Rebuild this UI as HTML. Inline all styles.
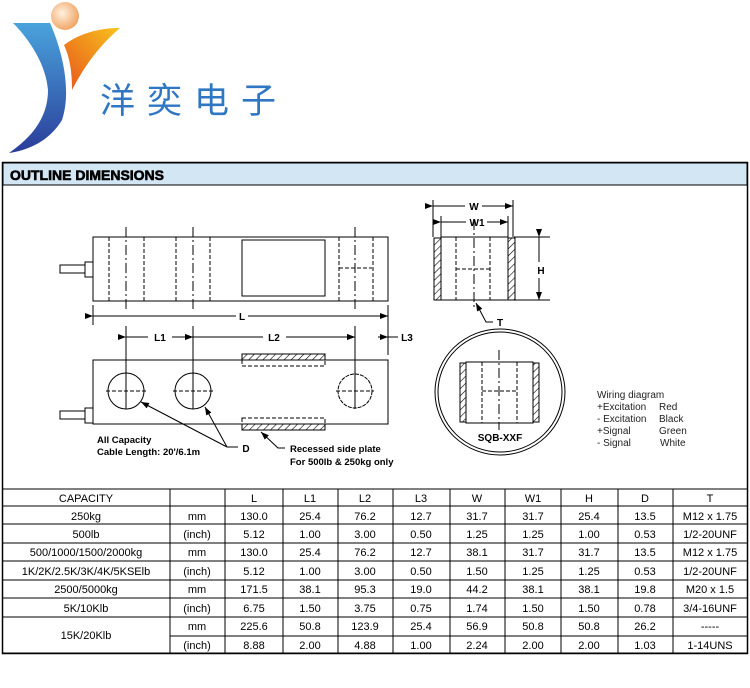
<!DOCTYPE html>
<html><head><meta charset="utf-8"><style>
body{margin:0;width:750px;height:688px;background:#fff;overflow:hidden}
svg{display:block}
text{font-family:"Liberation Sans",Arial,sans-serif}
</style></head><body>
<svg width="750" height="688" viewBox="0 0 750 688" xmlns="http://www.w3.org/2000/svg">
<defs>
<linearGradient id="gb" x1="0" y1="0" x2="0" y2="1"><stop offset="0" stop-color="#4aa3dc"/><stop offset="1" stop-color="#2a3d9a"/></linearGradient>
<linearGradient id="go" x1="0" y1="1" x2="1" y2="0"><stop offset="0" stop-color="#e8541e"/><stop offset="1" stop-color="#f7c21b"/></linearGradient>
<radialGradient id="gs" cx="0.4" cy="0.4" r="0.6"><stop offset="0" stop-color="#fff1e0"/><stop offset="1" stop-color="#f0a868"/></radialGradient>
<pattern id="hat" width="5" height="5" patternUnits="userSpaceOnUse" patternTransform="rotate(45)"><line x1="0" y1="0" x2="0" y2="5" stroke="#000" stroke-width="1.2"/></pattern>
<marker id="ar" markerWidth="8" markerHeight="6" refX="8" refY="3" orient="auto" markerUnits="userSpaceOnUse"><path d="M0,0 L8,3 L0,6z" fill="#000"/></marker>
</defs>
<!-- logo -->
<circle cx="65" cy="16" r="14" fill="url(#gs)"/>
<path d="M13,23 L50,23 C62,50 72,90 62,120 C50,140 30,150 9,153 C35,135 48,115 48,90 C46,65 30,40 13,23Z" fill="url(#gb)"/>
<path d="M64,45 C80,33 100,28 120,28 C100,45 85,65 72,90 C72,72 70,58 64,45Z" fill="url(#go)"/>
<text x="100" y="113" font-size="35" fill="#2f77c2" letter-spacing="12" style="font-family:'Noto Sans CJK SC',sans-serif">洋奕电子</text>
<!-- frame -->
<rect x="2.5" y="162.5" width="745" height="491" fill="none" stroke="#000" stroke-width="1.5"/>
<rect x="3" y="163" width="744" height="22" fill="#d3e6f4" stroke="#000" stroke-width="1"/>
<text x="10" y="180" font-size="14" font-weight="bold" stroke="#000" stroke-width="0.6">OUTLINE DIMENSIONS</text>
<g stroke="#000" stroke-width="1" fill="none">
<!-- top view -->
<rect x="93" y="237" width="295" height="64"/>
<rect x="242" y="240" width="83" height="56"/>
<g stroke-dasharray="4,2"><line x1="109" y1="237" x2="109" y2="301"/><line x1="144" y1="237" x2="144" y2="301"/><line x1="176" y1="237" x2="176" y2="301"/><line x1="210" y1="237" x2="210" y2="301"/><line x1="339" y1="237" x2="339" y2="301"/><line x1="373" y1="237" x2="373" y2="301"/><line x1="339" y1="268" x2="372" y2="268"/></g>
<g stroke-dasharray="10,3,2,3"><line x1="126" y1="227" x2="126" y2="312"/><line x1="193" y1="227" x2="193" y2="312"/><line x1="355" y1="227" x2="355" y2="312"/></g>
<rect x="85" y="262" width="8" height="15"/><rect x="60" y="265" width="25" height="8"/>
<line x1="93" y1="305" x2="93" y2="325"/><line x1="388" y1="305" x2="388" y2="355"/>
<line x1="93" y1="316" x2="236" y2="316" marker-start="url(#ar)"/><line x1="248" y1="316" x2="388" y2="316" marker-end="url(#ar)"/>
<line x1="126" y1="326" x2="126" y2="409"/><line x1="193" y1="326" x2="193" y2="409"/><line x1="355" y1="326" x2="355" y2="409"/>
<line x1="126" y1="337" x2="148" y2="337" marker-start="url(#ar)"/><line x1="172" y1="337" x2="193" y2="337" marker-end="url(#ar)"/>
<line x1="193" y1="337" x2="263" y2="337" marker-start="url(#ar)"/><line x1="286" y1="337" x2="355" y2="337" marker-end="url(#ar)"/>
<line x1="344" y1="337" x2="355" y2="337" marker-end="url(#ar)"/>
<line x1="378" y1="337" x2="388" y2="337" marker-end="url(#ar)"/><line x1="388" y1="337" x2="398" y2="337"/>
<!-- bottom view -->
<rect x="93" y="360" width="295" height="64"/>
<rect x="85" y="408" width="8" height="15"/><rect x="60" y="411" width="25" height="8"/>
<circle cx="126" cy="391" r="18"/><circle cx="193" cy="391" r="18"/><circle cx="355" cy="391" r="17" stroke-dasharray="4,1"/>
<g stroke-dasharray="4,2"><line x1="106" y1="391" x2="146" y2="391"/><line x1="173" y1="391" x2="213" y2="391"/><line x1="336" y1="391" x2="374" y2="391"/></g>
<rect x="242" y="354" width="83" height="6" fill="url(#hat)"/><rect x="242" y="360" width="83" height="6" stroke-dasharray="4,2"/>
<rect x="242" y="418" width="83" height="6" stroke-dasharray="4,2"/><rect x="242" y="424" width="83" height="6" fill="url(#hat)"/>
<line x1="227" y1="447" x2="141" y2="402" marker-end="url(#ar)"/><line x1="227" y1="447" x2="205" y2="407" marker-end="url(#ar)"/><line x1="227" y1="447" x2="238" y2="447"/>
<polyline points="285,448 278,448 261,432" marker-end="url(#ar)"/>
<!-- end view -->
<rect x="441" y="237" width="67" height="63"/>
<rect x="434" y="238" width="7" height="62" fill="url(#hat)"/><rect x="508" y="238" width="7" height="62" fill="url(#hat)"/>
<g stroke-dasharray="4,2"><line x1="456" y1="237" x2="456" y2="300"/><line x1="490" y1="237" x2="490" y2="300"/><line x1="456" y1="269" x2="490" y2="269"/></g>
<line x1="474" y1="220" x2="474" y2="307" stroke-dasharray="10,3,2,3"/>
<line x1="433" y1="200" x2="433" y2="237"/><line x1="513" y1="200" x2="513" y2="237"/><line x1="441" y1="216" x2="441" y2="237"/><line x1="508" y1="216" x2="508" y2="237"/>
<line x1="433" y1="206" x2="465" y2="206" marker-start="url(#ar)"/><line x1="482" y1="206" x2="513" y2="206" marker-end="url(#ar)"/>
<line x1="441" y1="222" x2="466" y2="222" marker-start="url(#ar)"/><line x1="487" y1="222" x2="508" y2="222" marker-end="url(#ar)"/>
<line x1="514" y1="237" x2="550" y2="237"/><line x1="514" y1="300" x2="550" y2="300"/>
<line x1="539" y1="237" x2="539" y2="262" marker-start="url(#ar)"/><line x1="539" y1="278" x2="539" y2="300" marker-end="url(#ar)"/>
<polyline points="493,322 486,322 476,303" marker-end="url(#ar)"/>
<ellipse cx="500" cy="392" rx="65" ry="63"/><ellipse cx="500" cy="392" rx="62" ry="60"/>
<rect x="466" y="362" width="67" height="61"/>
<rect x="460" y="363" width="6" height="59" fill="url(#hat)"/><rect x="533" y="363" width="6" height="59" fill="url(#hat)"/>
<g stroke-dasharray="4,2"><line x1="482" y1="362" x2="482" y2="423"/><line x1="517" y1="362" x2="517" y2="423"/><line x1="482" y1="391" x2="517" y2="391"/></g>
<line x1="499" y1="350" x2="499" y2="430" stroke-dasharray="10,3,2,3"/>
</g>
<g font-size="10" font-weight="bold" text-anchor="middle">
<text x="242" y="320">L</text><text x="160" y="341">L1</text><text x="274" y="341">L2</text><text x="407" y="341">L3</text>
<text x="474" y="210">W</text><text x="477" y="226">W1</text><text x="541" y="274">H</text><text x="500" y="326">T</text>
<text x="246" y="452">D</text><text x="500" y="441">SQB-XXF</text>
</g>
<g font-size="9.5" font-weight="bold">
<text x="97" y="443">All Capacity</text><text x="97" y="455">Cable Length: 20'/6.1m</text>
<text x="290" y="452">Recessed side plate</text><text x="290" y="465">For 500lb &amp; 250kg only</text>
</g>
<g font-size="10" fill="#222">
<text x="597" y="398">Wiring diagram</text>
<text x="597" y="410">+Excitation</text><text x="659" y="410">Red</text>
<text x="597" y="422">- Excitation</text><text x="659" y="422">Black</text>
<text x="597" y="434">+Signal</text><text x="659" y="434">Green</text>
<text x="597" y="446">- Signal</text><text x="660" y="446">White</text>
</g>
<!-- table -->
<g stroke="#000" stroke-width="1" fill="none">
<line x1="2" y1="489" x2="748" y2="489"/>
<line x1="2" y1="506" x2="748" y2="506"/><line x1="2" y1="524" x2="748" y2="524"/><line x1="2" y1="543" x2="748" y2="543"/><line x1="2" y1="561" x2="748" y2="561"/><line x1="2" y1="580" x2="748" y2="580"/><line x1="2" y1="598" x2="748" y2="598"/><line x1="2" y1="617" x2="748" y2="617"/><line x1="170" y1="636" x2="748" y2="636"/><line x1="2" y1="653" x2="748" y2="653"/>
<line x1="170" y1="489" x2="170" y2="653"/><line x1="225" y1="489" x2="225" y2="653"/><line x1="283" y1="489" x2="283" y2="653"/><line x1="338" y1="489" x2="338" y2="653"/><line x1="393" y1="489" x2="393" y2="653"/><line x1="450" y1="489" x2="450" y2="653"/><line x1="505" y1="489" x2="505" y2="653"/><line x1="561" y1="489" x2="561" y2="653"/><line x1="618" y1="489" x2="618" y2="653"/><line x1="673" y1="489" x2="673" y2="653"/>
</g>
<g font-size="11" text-anchor="middle">
<text x="86" y="502">CAPACITY</text><text x="254" y="502">L</text><text x="310" y="502">L1</text><text x="365" y="502">L2</text><text x="421" y="502">L3</text><text x="477" y="502">W</text><text x="533" y="502">W1</text><text x="589" y="502">H</text><text x="645" y="502">D</text><text x="710" y="502">T</text>
<text x="86" y="520">250kg</text><text x="197" y="520">mm</text><text x="254" y="520">130.0</text><text x="310" y="520">25.4</text><text x="365" y="520">76.2</text><text x="421" y="520">12.7</text><text x="477" y="520">31.7</text><text x="533" y="520">31.7</text><text x="589" y="520">25.4</text><text x="645" y="520">13.5</text><text x="710" y="520">M12 x 1.75</text>
<text x="86" y="538">500lb</text><text x="197" y="538">(inch)</text><text x="254" y="538">5.12</text><text x="310" y="538">1.00</text><text x="365" y="538">3.00</text><text x="421" y="538">0.50</text><text x="477" y="538">1.25</text><text x="533" y="538">1.25</text><text x="589" y="538">1.00</text><text x="645" y="538">0.53</text><text x="710" y="538">1/2-20UNF</text>
<text x="86" y="556">500/1000/1500/2000kg</text><text x="197" y="556">mm</text><text x="254" y="556">130.0</text><text x="310" y="556">25.4</text><text x="365" y="556">76.2</text><text x="421" y="556">12.7</text><text x="477" y="556">38.1</text><text x="533" y="556">31.7</text><text x="589" y="556">31.7</text><text x="645" y="556">13.5</text><text x="710" y="556">M12 x 1.75</text>
<text x="86" y="575">1K/2K/2.5K/3K/4K/5KSElb</text><text x="197" y="575">(inch)</text><text x="254" y="575">5.12</text><text x="310" y="575">1.00</text><text x="365" y="575">3.00</text><text x="421" y="575">0.50</text><text x="477" y="575">1.50</text><text x="533" y="575">1.25</text><text x="589" y="575">1.25</text><text x="645" y="575">0.53</text><text x="710" y="575">1/2-20UNF</text>
<text x="86" y="593">2500/5000kg</text><text x="197" y="593">mm</text><text x="254" y="593">171.5</text><text x="310" y="593">38.1</text><text x="365" y="593">95.3</text><text x="421" y="593">19.0</text><text x="477" y="593">44.2</text><text x="533" y="593">38.1</text><text x="589" y="593">38.1</text><text x="645" y="593">19.8</text><text x="710" y="593">M20 x 1.5</text>
<text x="86" y="612">5K/10Klb</text><text x="197" y="612">(inch)</text><text x="254" y="612">6.75</text><text x="310" y="612">1.50</text><text x="365" y="612">3.75</text><text x="421" y="612">0.75</text><text x="477" y="612">1.74</text><text x="533" y="612">1.50</text><text x="589" y="612">1.50</text><text x="645" y="612">0.78</text><text x="710" y="612">3/4-16UNF</text>
<text x="86" y="639">15K/20Klb</text>
<text x="197" y="630">mm</text><text x="254" y="630">225.6</text><text x="310" y="630">50.8</text><text x="365" y="630">123.9</text><text x="421" y="630">25.4</text><text x="477" y="630">56.9</text><text x="533" y="630">50.8</text><text x="589" y="630">50.8</text><text x="645" y="630">26.2</text><text x="710" y="630">-----</text>
<text x="197" y="649">(inch)</text><text x="254" y="649">8.88</text><text x="310" y="649">2.00</text><text x="365" y="649">4.88</text><text x="421" y="649">1.00</text><text x="477" y="649">2.24</text><text x="533" y="649">2.00</text><text x="589" y="649">2.00</text><text x="645" y="649">1.03</text><text x="710" y="649">1-14UNS</text>
</g>
</svg>
</body></html>
